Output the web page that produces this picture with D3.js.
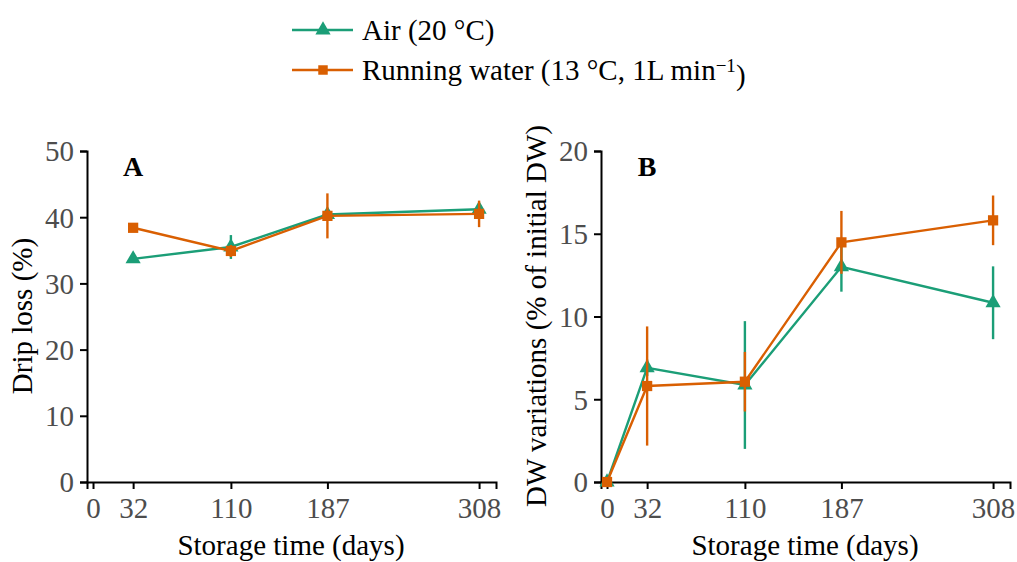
<!DOCTYPE html>
<html>
<head>
<meta charset="utf-8">
<script src="https://cdn.jsdelivr.net/npm/d3@7"></script>
<style>
  body { margin: 0; background: #fff; }
  text { font-family: "Liberation Serif", "DejaVu Serif", serif; }
</style>
</head>
<body>
<svg id="chart" width="1017" height="562"></svg>
<script>
// storage days
var days = [0, 32, 110, 187, 308];
var tickDays = [0, 32, 110, 187, 308];
// panel A: drip loss (%), null = not measured
var dripAir = [null, 33.7, 35.5, 40.4, 41.2];
var dripAirErr = [null, 0.4, 1.8, 0.5, 0.8];
var dripWater = [null, 38.4, 34.9, 40.2, 40.5];
var dripWaterErr = [null, 0.3, 0.9, 3.4, 2.0];
// panel B: DW variations (% of initial DW)
var dwAir = [0, 6.9, 5.86, 13.0, 10.83];
var dwAirErr = [0, 0.5, 3.86, 1.5, 2.2];
var dwWater = [0, 5.8, 6.06, 14.48, 15.81];
var dwWaterErr = [0, 3.6, 1.8, 1.9, 1.5];

var seriesNames = ["Air (20 °C)", "Running water (13 °C, 1L min"];
var green = "#1b9e77", orange = "#d95f02";
var fs = "29px";

var svg = d3.select("#chart");

// 画一个面板
function panel(opt) {
  var x = d3.scaleLinear().domain([-4.8, 321.5]).range([opt.left, opt.left + 409]);
  var y = d3.scaleLinear().domain([0, opt.ymax]).range([482, 151]);
  var g = svg.append("g");

  // y axis
  var ya = g.append("g")
    .attr("transform", "translate(" + opt.left + ",0)")
    .call(d3.axisLeft(y).tickValues(opt.yticks).tickSize(7).tickPadding(6));
  // x axis
  var xa = g.append("g")
    .attr("transform", "translate(0,482)")
    .call(d3.axisBottom(x).tickValues(tickDays).tickSize(7).tickPadding(8));
  [ya, xa].forEach(function(a) {
    a.select(".domain").attr("stroke", "#000").attr("stroke-width", 2);
    a.selectAll(".tick line").attr("stroke", "#000").attr("stroke-width", 2);
    a.selectAll(".tick text").attr("fill", "#4d4d4d").style("font-size", fs);
  });
  ya.selectAll(".tick text").attr("dy", "0.34em");

  // titles
  g.append("text")
    .attr("x", opt.left + 204).attr("y", 555)
    .attr("text-anchor", "middle").style("font-size", fs)
    .text("Storage time (days)");
  g.append("text")
    .attr("transform", "translate(" + (opt.left - 55) + ",316) rotate(-90)")
    .attr("text-anchor", "middle").style("font-size", fs)
    .text(opt.ylab);
  g.append("text")
    .attr("x", opt.left + 46).attr("y", 176)
    .attr("text-anchor", "middle").style("font-size", "28px").style("font-weight", "bold")
    .text(opt.tag);

  var sets = [
    { vals: opt.air, err: opt.airErr, color: green, shape: d3.symbolTriangle, size: 100 },
    { vals: opt.water, err: opt.waterErr, color: orange, shape: d3.symbolSquare, size: 105 }
  ];
  var line = d3.line()
    .defined(function(d) { return d.v != null; })
    .x(function(d) { return x(d.t); })
    .y(function(d) { return y(d.v); });

  sets.forEach(function(s) {
    var pts = days.map(function(t, i) { return { t: t, v: s.vals[i], e: s.err[i] }; })
      .filter(function(d) { return d.v != null; });
    g.selectAll(null).data(pts).enter().append("line")
      .attr("x1", function(d) { return x(d.t); })
      .attr("x2", function(d) { return x(d.t); })
      .attr("y1", function(d) { return y(d.v - d.e); })
      .attr("y2", function(d) { return y(d.v + d.e); })
      .attr("stroke", s.color).attr("stroke-width", 2.4);
    g.append("path").datum(pts)
      .attr("d", line).attr("fill", "none")
      .attr("stroke", s.color).attr("stroke-width", 2.4);
    g.selectAll(null).data(pts).enter().append("path")
      .attr("d", d3.symbol().type(s.shape).size(s.size))
      .attr("transform", function(d) { return "translate(" + x(d.t) + "," + y(d.v) + ")"; })
      .attr("fill", s.color);
  });
}

panel({ left: 87, ymax: 50, yticks: [0, 10, 20, 30, 40, 50], ylab: "Drip loss (%)", tag: "A",
  air: dripAir, airErr: dripAirErr, water: dripWater, waterErr: dripWaterErr });
panel({ left: 601, ymax: 20, yticks: [0, 5, 10, 15, 20], ylab: "DW variations (% of initial DW)", tag: "B",
  air: dwAir, airErr: dwAirErr, water: dwWater, waterErr: dwWaterErr });

// 图例
var legend = svg.append("g");
[green, orange].forEach(function(c, i) {
  var ly = 30 + i * 40;
  legend.append("line").attr("x1", 292).attr("x2", 353).attr("y1", ly).attr("y2", ly)
    .attr("stroke", c).attr("stroke-width", 2.4);
  legend.append("path")
    .attr("d", d3.symbol().type(i === 0 ? d3.symbolTriangle : d3.symbolSquare).size(i === 0 ? 100 : 90))
    .attr("transform", "translate(323," + ly + ")").attr("fill", c);
  var t = legend.append("text").attr("x", 362).attr("y", ly).attr("dy", "0.35em")
    .style("font-size", fs).text(seriesNames[i]);
  if (i === 1) {
    t.append("tspan").attr("dy", "-0.45em").style("font-size", "19px").text("−1");
    t.append("tspan").attr("dy", "0.45em").text(")");
  }
});
</script>
</body>
</html>
